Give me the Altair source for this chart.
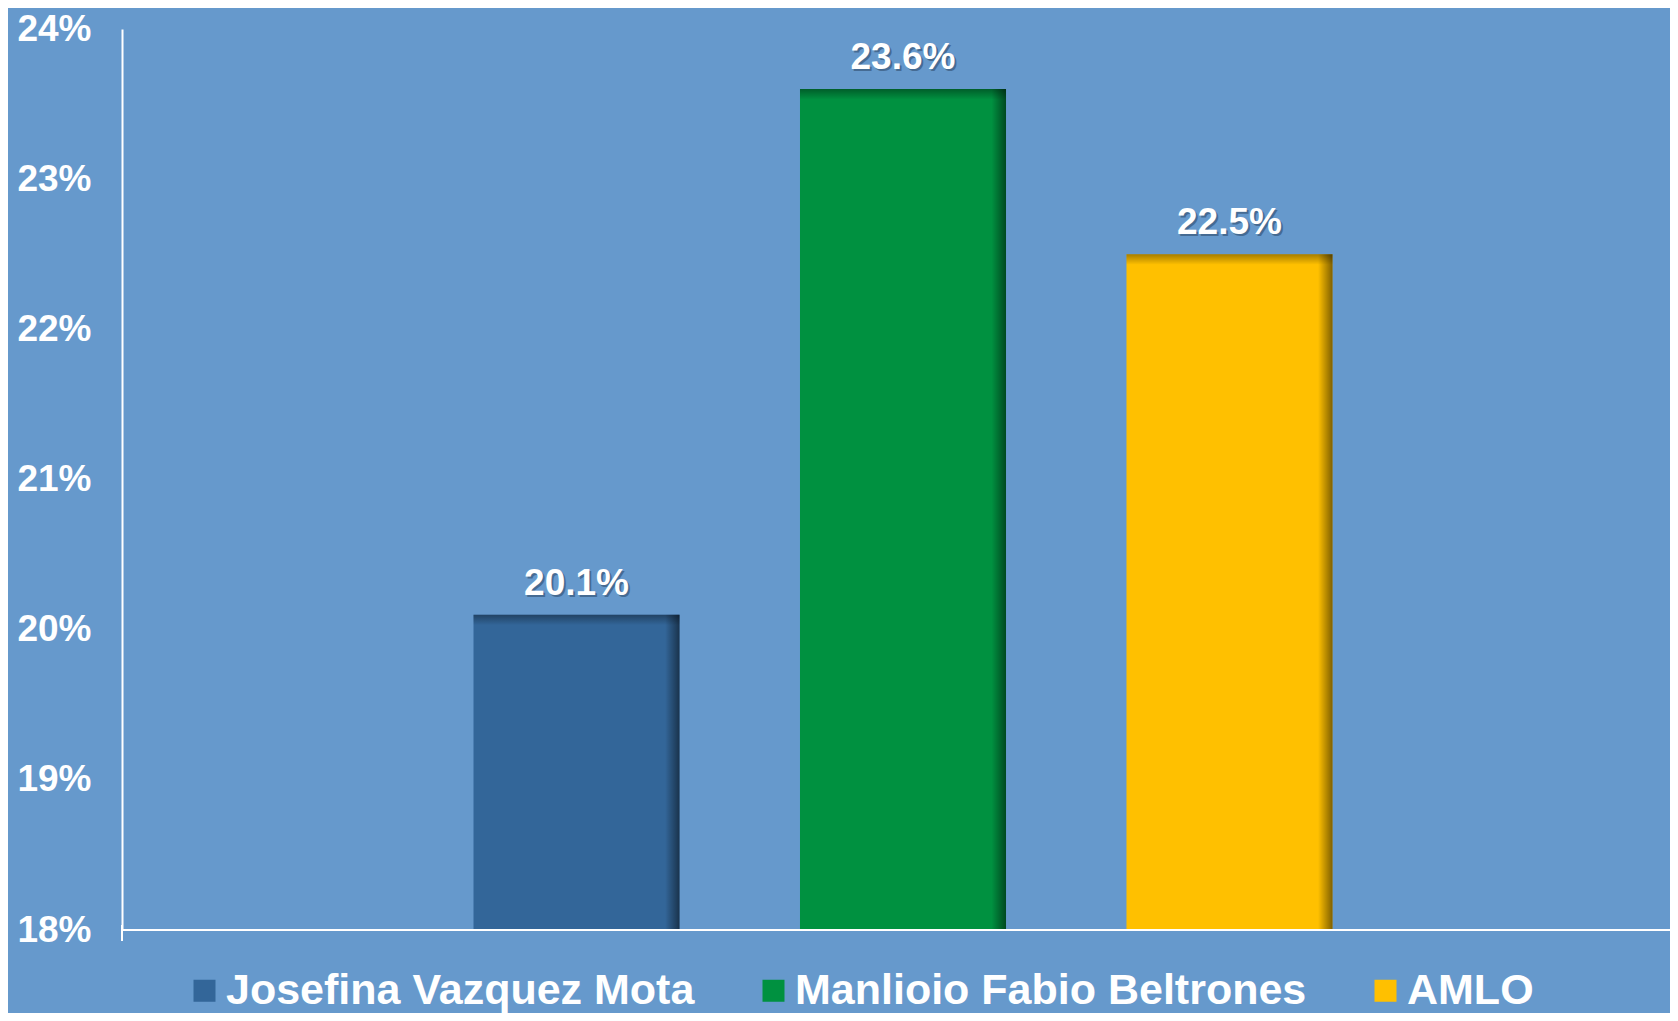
import altair as alt
import pandas as pd

candidates = ["Josefina Vazquez Mota", "Manlioio Fabio Beltrones", "AMLO"]
values = [20.1, 23.6, 22.5]
labels = ["20.1%", "23.6%", "22.5%"]
colors = ["#336699", "#009140", "#FFC000"]
y_ticks = [18, 19, 20, 21, 22, 23, 24]
y_domain = [18, 24]

FONT = "Liberation Sans"
BG = "#6699CC"

W, H = 1548, 901

df = pd.DataFrame({"candidate": candidates, "value": values, "label": labels})
df["base"] = y_domain[0]
df["top_shade"] = df["value"] - 0.07

x_enc = alt.X(
    "candidate:N",
    sort=candidates,
    scale=alt.Scale(range=[351.5, 1210.5], paddingInner=0.369, paddingOuter=0),
    axis=alt.Axis(title=None, labels=False, ticks=False, domain=False),
)
y_scale = alt.Scale(domain=y_domain, nice=False, zero=False)
y_enc = alt.Y(
    "value:Q",
    scale=y_scale,
    axis=alt.Axis(
        title=None, values=y_ticks, labelExpr="datum.value + '%'", grid=False, ticks=False,
        domainColor="white", domainWidth=2, labelFont=FONT, labelFontSize=37,
        labelFontWeight="bold", labelColor="white", labelPadding=31,
    ),
)

base = alt.Chart(df)

bars = base.mark_bar().encode(
    x=x_enc,
    y=y_enc,
    y2=alt.Y2("base:Q"),
    color=alt.Color(
        "candidate:N",
        sort=candidates,
        scale=alt.Scale(domain=candidates, range=colors),
        legend=alt.Legend(
            orient="none", legendX=61, legendY=940, direction="horizontal", title=None,
            symbolType="square", symbolSize=484, symbolStrokeWidth=0,
            labelFont=FONT, labelFontSize=43, labelFontWeight="bold", labelColor="white",
            labelLimit=1000, labelOffset=0, columnPadding=57, padding=0,
        ),
    ),
)

side_shade = base.mark_bar(
    fill=alt.Gradient(
        gradient="linear", x1=0, x2=1, y1=0, y2=0,
        stops=[
            alt.GradientStop(color="rgba(0,0,0,0)", offset=0),
            alt.GradientStop(color="rgba(0,0,0,0)", offset=0.93),
            alt.GradientStop(color="rgba(0,0,0,0.5)", offset=1),
        ],
    )
).encode(x=x_enc, y=alt.Y("value:Q", scale=y_scale), y2=alt.Y2("base:Q"))

top_shade = base.mark_bar(
    fill=alt.Gradient(
        gradient="linear", x1=0, x2=0, y1=0, y2=1,
        stops=[
            alt.GradientStop(color="rgba(0,0,0,0.35)", offset=0),
            alt.GradientStop(color="rgba(0,0,0,0)", offset=1),
        ],
    )
).encode(x=x_enc, y=alt.Y("value:Q", scale=y_scale), y2=alt.Y2("top_shade:Q"))

text_shadow = base.mark_text(
    dy=-18, dx=2, baseline="alphabetic", fontSize=37, fontWeight="bold", font=FONT,
    color="#1f3550", opacity=0.45,
).encode(x=x_enc, y=alt.Y("value:Q", scale=y_scale), text="label:N")

text = base.mark_text(
    dy=-20, dx=0, baseline="alphabetic", fontSize=37, fontWeight="bold", font=FONT, color="white",
).encode(x=x_enc, y=alt.Y("value:Q", scale=y_scale), text="label:N")

x_line = base.mark_rule(color="white", strokeWidth=2).encode(
    x=alt.value(0), x2=alt.value(W), y=alt.value(H)
)

axis_ext = base.mark_rule(color="white", strokeWidth=2).encode(
    x=alt.value(0), y=alt.value(H - 5), y2=alt.value(H + 11)
)

chart = (
    alt.layer(bars, side_shade, top_shade, text_shadow, text, x_line, axis_ext)
    .properties(
        width=W, height=H,
        autosize=alt.AutoSizeParams(type="none"),
        padding={"left": 114, "top": 21, "right": 0, "bottom": 83},
        background=BG,
    )
    .configure_view(stroke=None)
)

chart.save("out.html", embed_options={"renderer": "svg", "actions": False})
